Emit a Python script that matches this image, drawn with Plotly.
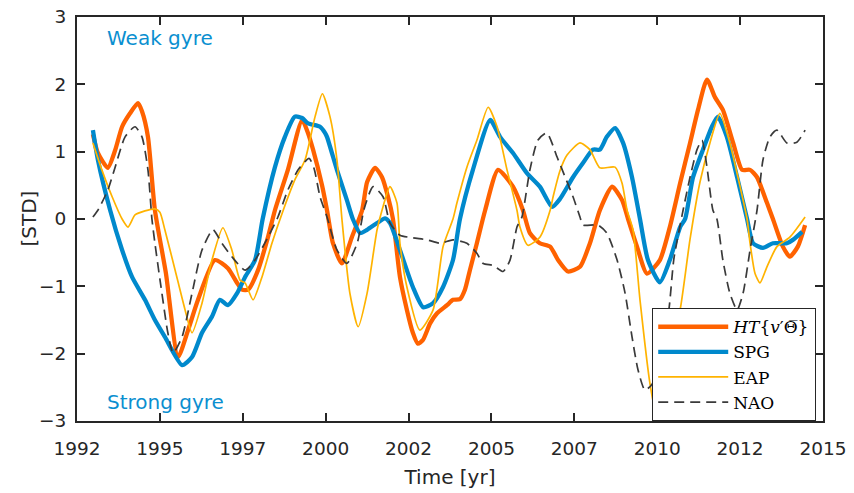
import plotly.graph_objects as go

# ---------------- data ----------------
ht_year = [1992.98, 1993.13, 1993.43, 1993.65, 1993.86, 1994.10, 1994.34, 1994.46, 1994.64, 1994.85,
           1995.18, 1995.55, 1995.85, 1996.15, 1996.66, 1997.05, 1997.33, 1997.48, 1997.66, 1997.96,
           1998.26, 1998.47, 1998.86, 1999.29, 1999.45, 1999.62, 1999.89, 2000.04, 2000.22, 2000.49,
           2000.79, 2001.10, 2001.25, 2001.49, 2001.70, 2001.88, 2002.03, 2002.24, 2002.45, 2002.63,
           2002.78, 2002.93, 2003.15, 2003.36, 2003.66, 2003.84, 2004.05, 2004.20, 2004.35, 2004.56,
           2004.81, 2005.20, 2005.65, 2005.95, 2006.16, 2006.46, 2006.77, 2007.01, 2007.31, 2007.67,
           2007.97, 2008.27, 2008.64, 2008.94, 2009.12, 2009.39, 2009.69, 2010.08, 2010.38, 2010.69,
           2010.99, 2011.23, 2011.50, 2011.74, 2011.98, 2012.29, 2012.56, 2012.80, 2013.01, 2013.31,
           2013.49, 2013.79, 2014.00, 2014.24, 2014.46]
ht_val = [1.26, 0.98, 0.76, 1.02, 1.37, 1.57, 1.72, 1.60, 1.22, 0.13,
          -0.80, -2.05, -1.65, -1.20, -0.61, -0.73, -0.95, -1.05, -1.05, -0.76,
          -0.27, 0.13, 0.73, 1.47, 1.30, 1.03, 0.50, 0.13, -0.36, -0.66,
          -0.27, 0.13, 0.55, 0.76, 0.62, 0.33, 0.00, -0.86, -1.35, -1.69,
          -1.85, -1.80, -1.55, -1.40, -1.28, -1.20, -1.19, -1.05, -0.76, -0.36,
          0.13, 0.73, 0.48, 0.13, -0.21, -0.36, -0.41, -0.61, -0.78, -0.71,
          -0.36, 0.13, 0.48, 0.28, 0.00, -0.41, -0.81, -0.61, -0.12, 0.53,
          1.13, 1.62, 2.07, 1.81, 1.62, 1.13, 0.73, 0.73, 0.62, 0.24,
          0.00, -0.41, -0.56, -0.41, -0.09]

spg_year = [1992.98, 1993.13, 1993.50, 1993.86, 1994.16, 1994.55, 1994.85, 1995.15, 1995.67, 1995.97,
            1996.27, 1996.57, 1996.81, 1997.05, 1997.33, 1997.57, 1997.87, 1998.10, 1998.47, 1998.77,
            1999.07, 1999.29, 1999.47, 1999.83, 1999.98, 2000.04, 2000.34, 2000.64, 2000.82, 2001.04,
            2001.25, 2001.55, 2001.79, 2001.94, 2002.24, 2002.63, 2002.94, 2003.24, 2003.54, 2003.84,
            2004.05, 2004.44, 2004.96, 2005.26, 2005.65, 2006.07, 2006.46, 2006.83, 2007.07, 2007.46,
            2007.76, 2008.06, 2008.27, 2008.48, 2008.73, 2008.97, 2009.24, 2009.48, 2009.72, 2010.08,
            2010.38, 2010.69, 2010.84, 2011.08, 2011.38, 2011.65, 2011.83, 2012.10, 2012.41, 2012.71,
            2012.89, 2013.19, 2013.49, 2013.91, 2014.09, 2014.37]
spg_val = [1.32, 0.88, 0.13, -0.46, -0.86, -1.20, -1.50, -1.75, -2.17, -2.05,
           -1.69, -1.45, -1.20, -1.28, -1.10, -0.86, -0.61, 0.00, 0.77, 1.22,
           1.52, 1.50, 1.42, 1.37, 1.28, 1.22, 0.73, 0.28, 0.00, -0.21,
           -0.16, -0.06, 0.01, -0.06, -0.46, -1.01, -1.31, -1.25, -1.01, -0.61,
           0.00, 0.73, 1.47, 1.22, 0.98, 0.68, 0.48, 0.18, 0.30, 0.62,
           0.83, 1.03, 1.03, 1.22, 1.35, 1.13, 0.62, 0.00, -0.61, -0.94,
           -0.61, -0.12, 0.00, 0.62, 1.03, 1.37, 1.52, 1.22, 0.62, 0.00,
           -0.36, -0.43, -0.36, -0.36, -0.31, -0.19]

eap_year = [1992.98, 1993.25, 1993.56, 1993.86, 1994.04, 1994.25, 1994.55, 1994.85, 1995.00, 1995.15,
            1995.46, 1995.76, 1995.97, 1996.27, 1996.57, 1996.90, 1997.17, 1997.42, 1997.57, 1997.81,
            1998.08, 1998.38, 1998.72, 1999.07, 1999.38, 1999.68, 1999.90, 2000.13, 2000.34, 2000.49,
            2000.73, 2000.98, 2001.25, 2001.55, 2001.70, 2001.94, 2002.15, 2002.24, 2002.45, 2002.84,
            2003.24, 2003.54, 2003.84, 2003.96, 2004.26, 2004.56, 2004.90, 2005.17, 2005.47, 2005.77,
            2005.86, 2006.10, 2006.46, 2006.77, 2006.86, 2007.07, 2007.28, 2007.67, 2007.97, 2008.27,
            2008.73, 2008.94, 2009.09, 2009.27, 2009.48, 2009.78, 2009.97, 2010.20, 2010.41, 2010.69,
            2010.99, 2011.29, 2011.59, 2011.89, 2012.19, 2012.50, 2012.71, 2012.80, 2012.95, 2013.10,
            2013.31, 2013.61, 2014.00, 2014.46]
eap_val = [1.13, 0.73, 0.33, 0.00, -0.12, 0.06, 0.12, 0.15, 0.10, -0.16,
           -0.76, -1.35, -1.69, -1.25, -0.61, -0.13, -0.46, -0.91, -0.95, -1.20,
           -0.86, -0.36, 0.13, 0.58, 0.88, 1.52, 1.86, 1.52, 0.88, 0.00,
           -1.10, -1.60, -1.10, -0.16, 0.13, 0.48, 0.24, -0.36, -1.01, -1.65,
           -1.35, -0.41, 0.00, 0.24, 0.77, 1.17, 1.66, 1.37, 0.73, 0.13,
           -0.12, -0.39, -0.27, 0.13, 0.33, 0.72, 0.95, 1.13, 1.03, 0.76,
           0.77, 0.53, 0.13, -0.16, -1.20, -2.44, -2.90, -2.50, -1.90, -1.35,
           -0.30, 0.55, 1.13, 1.57, 1.13, 0.48, 0.00, -0.36, -0.81, -0.95,
           -0.71, -0.41, -0.27, 0.03]

nao_year = [1992.98, 1993.13, 1993.43, 1993.65, 1993.95, 1994.25, 1994.46, 1994.64, 1994.76, 1994.85,
            1995.06, 1995.24, 1995.40, 1995.67, 1995.97, 1996.27, 1996.60, 1996.87, 1997.17, 1997.57,
            1997.87, 1998.26, 1998.56, 1998.86, 1999.17, 1999.50, 1999.65, 1999.83, 2000.04, 2000.34,
            2000.64, 2000.95, 2001.16, 2001.43, 2001.73, 2001.94, 2002.24, 2002.63, 2003.06, 2003.45,
            2003.84, 2004.26, 2004.56, 2004.75, 2005.05, 2005.35, 2005.56, 2005.77, 2005.92, 2006.16,
            2006.40, 2006.67, 2006.98, 2007.16, 2007.46, 2007.67, 2007.76, 2008.21, 2008.48, 2008.79,
            2009.03, 2009.24, 2009.42, 2009.63, 2009.85, 2010.08, 2010.35, 2010.50, 2010.78, 2010.99,
            2011.20, 2011.35, 2011.50, 2011.68, 2011.80, 2011.98, 2012.19, 2012.41, 2012.59, 2012.80,
            2013.01, 2013.19, 2013.40, 2013.61, 2013.91, 2014.21, 2014.46]
nao_val = [0.03, 0.13, 0.43, 0.77, 1.22, 1.37, 1.22, 0.73, 0.00, -0.36,
           -1.10, -1.69, -1.99, -1.75, -1.10, -0.46, -0.16, -0.36, -0.56, -0.76,
           -0.61, -0.27, 0.03, 0.43, 0.73, 0.90, 0.75, 0.33, 0.03, -0.46,
           -0.66, -0.36, 0.15, 0.48, 0.33, -0.06, -0.24, -0.28, -0.31, -0.36,
           -0.31, -0.36, -0.51, -0.66, -0.69, -0.78, -0.61, -0.12, 0.03, 0.73,
           1.17, 1.28, 0.92, 0.70, 0.33, 0.03, -0.09, -0.09, -0.21, -0.61,
           -1.10, -1.75, -2.24, -2.54, -2.45, -2.00, -1.35, -0.60, 0.13, 0.62,
           1.03, 1.17, 0.77, 0.13, 0.00, -0.61, -1.10, -1.35, -1.10, -0.46,
           0.13, 0.88, 1.22, 1.32, 1.13, 1.14, 1.32]

x_tickvals = [1992.5, 1995.0, 1997.5, 2000.0, 2002.5, 2005.0, 2007.5, 2010.0, 2012.5, 2015.0]
x_ticktext = ["1992", "1995", "1997", "2000", "2002", "2005", "2007", "2010", "2012", "2015"]
y_tickvals = [-3, -2, -1, 0, 1, 2, 3]

names = ["<i>HT</i>{<i>v</i>\u2032\u0398\u0305}", "SPG", "EAP", "NAO"]

# ---------------- styles ----------------
C_ORANGE = "#FF6200"
C_BLUE = "#0089CC"
C_YELLOW = "#FFB300"
C_DASH = "#3A3A3A"
C_AX = "#262626"
SANS = "DejaVu Sans, Liberation Sans, sans-serif"
SERIF = "DejaVu Serif, Liberation Serif, serif"

fig = go.Figure()
fig.add_trace(go.Scatter(x=ht_year, y=ht_val, mode="lines", name=names[0],
                         line=dict(color=C_ORANGE, width=4.3, shape="spline", smoothing=0.6)))
fig.add_trace(go.Scatter(x=spg_year, y=spg_val, mode="lines", name=names[1],
                         line=dict(color=C_BLUE, width=4.3, shape="spline", smoothing=0.6)))
fig.add_trace(go.Scatter(x=eap_year, y=eap_val, mode="lines", name=names[2],
                         line=dict(color=C_YELLOW, width=1.7, shape="spline", smoothing=0.6)))
fig.add_trace(go.Scatter(x=nao_year, y=nao_val, mode="lines", name=names[3],
                         line=dict(color=C_DASH, width=1.7, dash="10px,6px", shape="spline", smoothing=0.6)))

axis_common = dict(showline=True, linecolor=C_AX, linewidth=1.8, mirror="ticks",
                   ticks="inside", ticklen=8, tickwidth=1.5, tickcolor=C_AX,
                   showgrid=False, zeroline=False,
                   tickfont=dict(family=SANS, size=18.5, color=C_AX))

fig.update_layout(
    width=854, height=493,
    margin=dict(l=77, r=31, t=17, b=72, autoexpand=False),
    paper_bgcolor="white", plot_bgcolor="white",
    font=dict(family=SANS, size=18.5, color=C_AX),
    xaxis=dict(range=[1992.5, 2015], tickmode="array", tickvals=x_tickvals, ticktext=x_ticktext,
               ticklabelstandoff=10,
               title=dict(text="Time [yr]", font=dict(family=SANS, size=20, color=C_AX), standoff=12),
               **axis_common),
    yaxis=dict(range=[-3, 3], tickmode="array", tickvals=y_tickvals,
               ticklabelstandoff=5,
               **axis_common),
    legend=dict(x=0.7708, xanchor="left", y=0, yanchor="bottom",
                bgcolor="white", bordercolor=C_AX, borderwidth=1.2,
                font=dict(family=SERIF, size=17, color="black"),
                itemwidth=70, tracegroupgap=0),
    showlegend=True,
    annotations=[
        dict(text="Weak gyre", xref="paper", yref="paper", x=0.0375, y=0.948,
             xanchor="left", yanchor="middle", showarrow=False,
             font=dict(family=SANS, size=20, color="#0A8FD0")),
        dict(text="Strong gyre", xref="paper", yref="paper", x=0.0375, y=0.047,
             xanchor="left", yanchor="middle", showarrow=False,
             font=dict(family=SANS, size=20, color="#0A8FD0")),
        dict(text="[STD]", xref="paper", yref="paper", x=-0.065, y=0.5,
             xanchor="center", yanchor="middle", textangle=-90, showarrow=False,
             font=dict(family=SANS, size=20, color=C_AX)),
    ],
)

fig.write_html("out.html", config={"displayModeBar": False},
               post_script="document.body.style.margin='0';")
